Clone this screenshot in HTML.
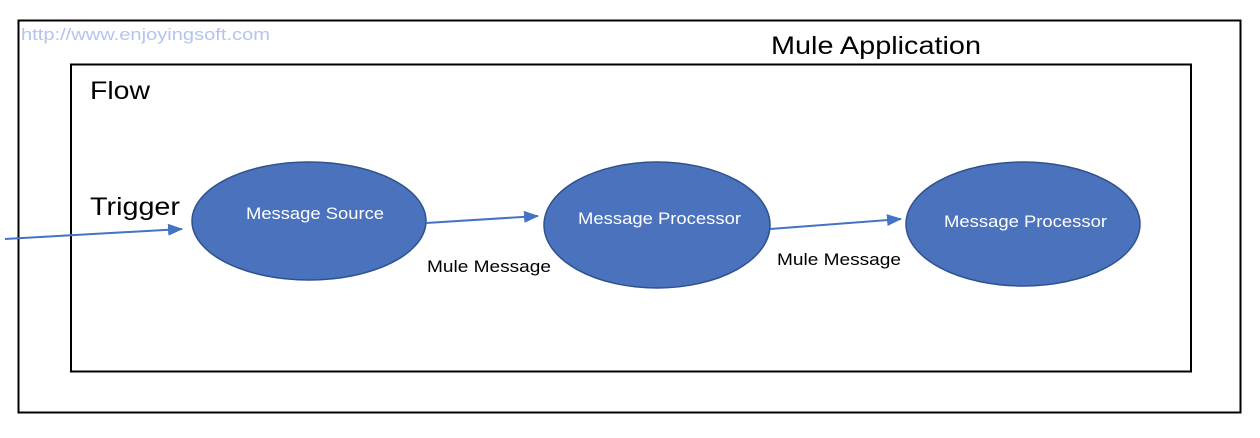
<!DOCTYPE html>
<html><head><style>
body{margin:0;background:#fff;}
svg{display:block;}
text{font-family:"Liberation Sans",sans-serif;}
</style></head><body>
<svg width="1260" height="438" viewBox="0 0 1260 438">
<defs><marker id="a" markerWidth="16" markerHeight="14" refX="14" refY="6" orient="auto" markerUnits="userSpaceOnUse"><path d="M0,0 L15,6 L0,12 z" fill="#4472c4"/></marker></defs>
<rect x="18.5" y="20.5" width="1222" height="392" fill="#fff" stroke="#000" stroke-width="2"/>
<rect x="71" y="64.5" width="1120" height="307" fill="#fff" stroke="#000" stroke-width="2"/>
<text x="21" y="40" font-size="17" fill="#b4c4f0" textLength="249" lengthAdjust="spacingAndGlyphs">http://www.enjoyingsoft.com</text>
<text x="771" y="54" font-size="25" fill="#000" textLength="210" lengthAdjust="spacingAndGlyphs">Mule Application</text>
<text x="90" y="99" font-size="25" fill="#000" textLength="60" lengthAdjust="spacingAndGlyphs">Flow</text>
<text x="90" y="215" font-size="25" fill="#000" textLength="90" lengthAdjust="spacingAndGlyphs">Trigger</text>
<g fill="#4a72bd" stroke="#2f528f" stroke-width="1.5">
<ellipse cx="309" cy="221" rx="117" ry="59"/>
<ellipse cx="657" cy="225" rx="113" ry="63"/>
<ellipse cx="1023" cy="224" rx="117" ry="62"/>
</g>
<g fill="#fff" font-size="17">
<text x="246" y="219" textLength="138" lengthAdjust="spacingAndGlyphs">Message Source</text>
<text x="578" y="224" textLength="163" lengthAdjust="spacingAndGlyphs">Message Processor</text>
<text x="944" y="227" textLength="163" lengthAdjust="spacingAndGlyphs">Message Processor</text>
</g>
<g stroke="#4472c4" stroke-width="2" marker-end="url(#a)">
<line x1="5" y1="239" x2="182" y2="229"/>
<line x1="426" y1="223" x2="538" y2="216"/>
<line x1="770" y1="229" x2="901" y2="219"/>
</g>
<g font-size="17" fill="#000">
<text x="427" y="272" textLength="124" lengthAdjust="spacingAndGlyphs">Mule Message</text>
<text x="777" y="265" textLength="124" lengthAdjust="spacingAndGlyphs">Mule Message</text>
</g>
</svg>
</body></html>
